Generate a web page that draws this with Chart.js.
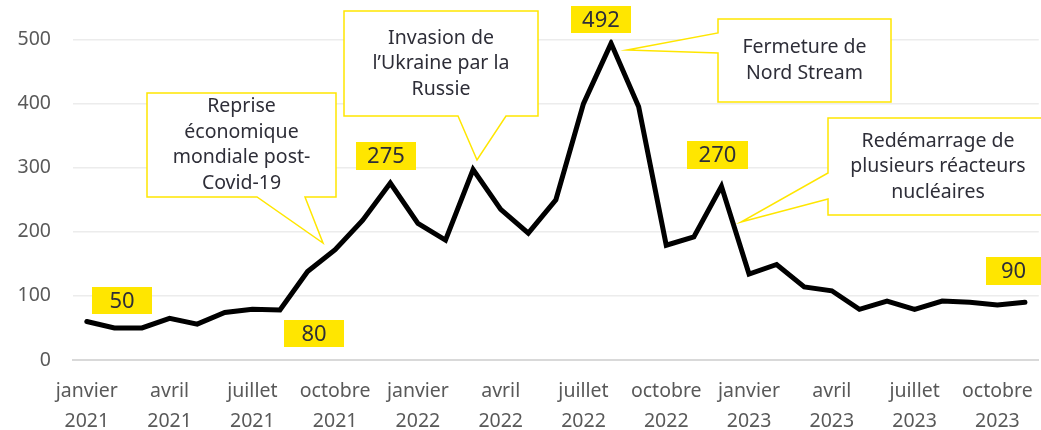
<!DOCTYPE html>
<html>
<head>
<meta charset="utf-8">
<script src="https://cdn.jsdelivr.net/npm/chart.js@4.4.1/dist/chart.umd.min.js"></script>
<style>
  html, body { margin: 0; padding: 0; background: #fff; }
  #wrap { width: 1041px; height: 430px; position: relative; }
</style>
</head>
<body>
<div id="wrap"><canvas id="priceChart"></canvas></div>
<script>
// Months shown on the axis (Jan 2021 -> Nov 2023)
const monthNames = ['janvier', 'février', 'mars', 'avril', 'mai', 'juin',
  'juillet', 'août', 'septembre', 'octobre', 'novembre', 'décembre'];
const years = ['2021', '2022', '2023'];
const pointCount = 35;

// Monthly values
const prices = [
  60, 50, 50, 65, 56, 74, 79, 78, 138, 172, 218, 276,
  213, 187, 297, 235, 198, 250, 400, 494, 395, 179, 192, 271,
  134, 149, 114, 108, 79, 92, 79, 92, 90, 86, 90
];

// Yellow value tags
const tagTexts = ['50', '80', '275', '492', '270', '90'];
// Callout texts
const calloutTexts = [
  ['Reprise', 'économique', 'mondiale post-', 'Covid-19'],
  ['Invasion de', 'l\u2019Ukraine par la', 'Russie'],
  ['Fermeture de', 'Nord Stream'],
  ['Redémarrage de', 'plusieurs réacteurs', 'nucléaires']
];

const labels = [];
for (let i = 0; i < pointCount; i++) {
  labels.push([monthNames[i % 12], years[Math.floor(i / 12)]]);
}

const FONT = '"Noto Sans", sans-serif';
const YELLOW = '#FFE600';
const TEXT = '#2e2e38';

// tag boxes: [x, y, w, h]
const tagBoxes = [
  [92, 287, 60, 27], [284, 320, 60, 27], [356, 142, 60, 28],
  [571, 6, 60, 27], [687, 141, 61, 28], [986, 257, 55, 28]
];

// callouts: box + pointer (bottom or left)
const callouts = [
  { box: [147, 93, 189, 104], side: 'bottom', base: [257, 305], tip: [323, 243] },
  { box: [344, 11, 194, 105], side: 'bottom', base: [458, 506], tip: [477, 160] },
  { box: [718, 19, 173, 83], side: 'left', base: [33, 53], tip: [627, 50] },
  { box: [828, 118, 220, 97], side: 'left', base: [173, 199], tip: [741, 222] }
];

const calloutPlugin = {
  id: 'callouts',
  afterDraw(chart) {
    const ctx = chart.ctx;
    ctx.save();

    // value tags
    ctx.font = '22px ' + FONT;
    ctx.textAlign = 'center';
    ctx.textBaseline = 'middle';
    tagBoxes.forEach((b, i) => {
      ctx.fillStyle = YELLOW;
      ctx.fillRect(b[0], b[1], b[2], b[3]);
      ctx.fillStyle = TEXT;
      ctx.fillText(tagTexts[i], b[0] + b[2] / 2, b[1] + b[3] / 2 + 1);
    });

    // callout boxes
    callouts.forEach((c, i) => {
      const [x, y, w, h] = c.box;
      ctx.beginPath();
      if (c.side === 'bottom') {
        ctx.moveTo(x, y);
        ctx.lineTo(x + w, y);
        ctx.lineTo(x + w, y + h);
        ctx.lineTo(c.base[1], y + h);
        ctx.lineTo(c.tip[0], c.tip[1]);
        ctx.lineTo(c.base[0], y + h);
        ctx.lineTo(x, y + h);
      } else {
        ctx.moveTo(x, y);
        ctx.lineTo(x + w, y);
        ctx.lineTo(x + w, y + h);
        ctx.lineTo(x, y + h);
        ctx.lineTo(x, c.base[1]);
        ctx.lineTo(c.tip[0], c.tip[1]);
        ctx.lineTo(x, c.base[0]);
      }
      ctx.closePath();
      ctx.fillStyle = '#ffffff';
      ctx.fill();
      ctx.strokeStyle = YELLOW;
      ctx.lineWidth = 1.5;
      ctx.stroke();

      const lines = calloutTexts[i];
      const lh = 25.5;
      ctx.font = '19.5px ' + FONT;
      ctx.fillStyle = TEXT;
      const startY = y + h / 2 - (lines.length - 1) * lh / 2;
      lines.forEach((t, k) => ctx.fillText(t, x + w / 2, startY + k * lh));
    });

    ctx.restore();
  }
};

const ctx = document.getElementById('priceChart').getContext('2d');
const priceChart = new Chart(ctx, {
  type: 'line',
  data: {
    labels: labels,
    datasets: [{
      data: prices,
      borderColor: '#000000',
      borderWidth: 5,
      pointRadius: 0,
      tension: 0,
      fill: false,
      borderJoinStyle: 'miter',
      borderCapStyle: 'round'
    }]
  },
  options: {
    responsive: true,
    maintainAspectRatio: false,
    animation: false,
    plugins: {
      legend: { display: false },
      tooltip: { enabled: false }
    },
    layout: { padding: { top: 39.5, right: 2, left: 0, bottom: 0 } },
    scales: {
      x: {
        offset: true,
        grid: { display: false, drawTicks: false },
        border: { display: true, color: '#d9d9d9', width: 2 },
        afterFit: (scale) => { scale.height = 70; },
        ticks: {
          autoSkip: false,
          maxRotation: 0,
          minRotation: 0,
          padding: 16,
          color: '#595959',
          font: { family: FONT, size: 19.5, lineHeight: 1.54 },
          callback: function (value, index) {
            return index % 3 === 0 ? this.getLabelForValue(value) : '';
          }
        }
      },
      y: {
        min: 0,
        max: 500,
        afterFit: (scale) => { scale.width = 73; },
        grid: {
          color: (c) => c.tick.value === 0 ? '#d9d9d9' : '#ececec',
          lineWidth: (c) => c.tick.value === 0 ? 2 : 1.5,
          drawTicks: false
        },
        border: { display: false },
        ticks: {
          stepSize: 100,
          padding: 22,
          color: '#595959',
          font: { family: FONT, size: 19.5 }
        }
      }
    }
  },
  plugins: [calloutPlugin]
});
</script>
</body>
</html>
